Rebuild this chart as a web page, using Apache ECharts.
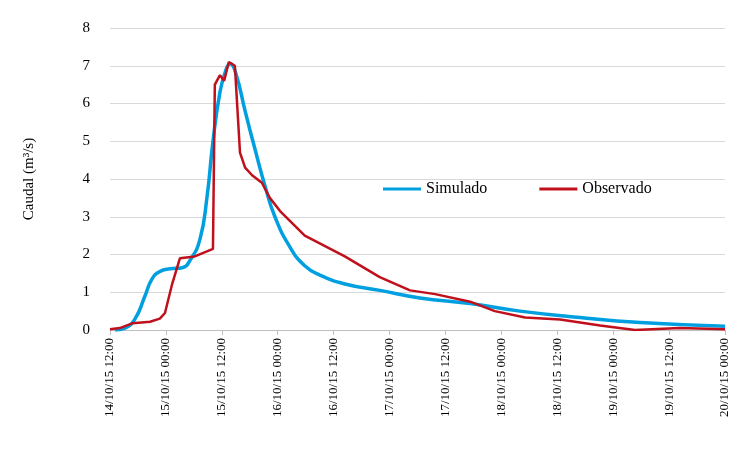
<!DOCTYPE html><html><head><meta charset="utf-8"><script src="https://cdn.jsdelivr.net/npm/echarts@6/dist/echarts.min.js"></script></head><body style="margin:0"><div id="c" style="width:738px;height:467px"></div><script>
const tickLabels=['14/10/15 12:00','15/10/15 00:00','15/10/15 12:00','16/10/15 00:00','16/10/15 12:00','17/10/15 00:00','17/10/15 12:00','18/10/15 00:00','18/10/15 12:00','19/10/15 00:00','19/10/15 12:00','20/10/15 00:00'];
const simHours=[1.1,3.2,5.4,7.5,9.0,10.7,12.9,15.5,17.2,19.3,20.8,22.1,23.6,24.9,25.8,27.0,29.0,31.1,33.3,35.4,38.6,41.8,45.1,50.4,57.9,66.5,77.3,88.0,100.9,113.8,132];
const simValues=[0,0.05,0.3,0.9,1.35,1.55,1.62,1.65,1.85,2.4,3.5,5.0,6.3,6.9,7.05,6.8,5.8,4.8,3.8,3.0,2.2,1.7,1.45,1.22,1.05,0.85,0.7,0.5,0.33,0.2,0.1];
const obsHours=[0,2.1,4.9,8.6,10.7,11.8,13.3,15.0,18.2,22.1,22.5,23.6,24.5,25.5,26.8,27.9,29.0,30.5,32.6,34.3,36.5,41.8,50.4,57.9,64.4,69.8,77.3,82.6,89.1,96.6,105.2,112.7,122.3,132];
const obsValues=[0.02,0.05,0.18,0.22,0.3,0.45,1.2,1.9,1.95,2.15,6.5,6.75,6.6,7.1,7.0,4.7,4.3,4.1,3.9,3.5,3.15,2.5,1.95,1.4,1.05,0.95,0.75,0.5,0.33,0.28,0.12,0.0,0.05,0.02];
const f='Liberation Serif';
echarts.init(document.getElementById('c')).setOption({
textStyle:{fontFamily:f},
legend:{left:378,top:176,itemGap:52,itemWidth:38,itemHeight:3,icon:'rect',textStyle:{fontFamily:f,fontSize:16,color:'#000'},data:['Simulado','Observado']},
grid:{left:110,right:13,top:28,bottom:137},
xAxis:{type:'value',min:0,max:132,interval:12,axisLine:{lineStyle:{color:'#bfbfbf'}},axisTick:{show:true,lineStyle:{color:'#bfbfbf'}},splitLine:{show:false},
axisLabel:{rotate:90,color:'#000',fontSize:13,fontFamily:f,formatter:v=>tickLabels[Math.round(v/12)]}},
yAxis:{type:'value',min:0,max:8,interval:1,name:'Caudal (m³/s)',nameLocation:'middle',nameGap:73,nameTextStyle:{color:'#000',fontSize:15,fontFamily:f},
axisTick:{show:false},axisLabel:{color:'#000',fontSize:15,fontFamily:f,margin:20},splitLine:{lineStyle:{color:'#d9d9d9'}},axisLine:{show:false}},
series:[
{name:'Simulado',type:'line',smooth:true,showSymbol:false,lineStyle:{color:'#00a0e0',width:3.5},itemStyle:{color:'#00a0e0'},data:simHours.map((h,i)=>[h,simValues[i]])},
{name:'Observado',type:'line',showSymbol:false,lineStyle:{color:'#c0101c',width:2.5},itemStyle:{color:'#c0101c'},data:obsHours.map((h,i)=>[h,obsValues[i]])}
]});
</script></body></html>
